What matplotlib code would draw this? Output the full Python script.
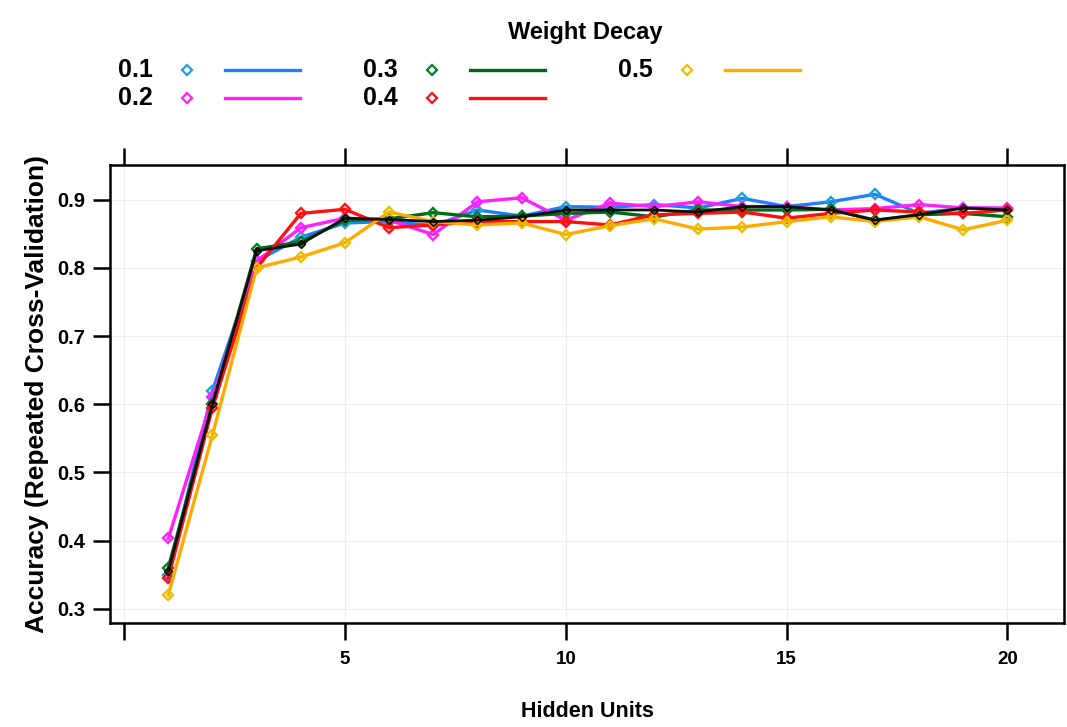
import numpy as np
import matplotlib
matplotlib.use('Agg')
import matplotlib.pyplot as plt
from matplotlib.lines import Line2D

plt.rcParams['font.family'] = ['Liberation Sans', 'DejaVu Sans']

hidden = np.arange(1, 21)

decay_labels = ['0.1', '0.2', '0.3', '0.4', '0.5']
decay_colors = ['#1f7fff', '#ff20ff', '#006a1a', '#ff1010', '#ffaa00']
marker_colors = ['#1f9fe0', '#ff20ff', '#008020', '#ff1010', '#e8c000']

acc_01 = [0.350, 0.620, 0.810, 0.845, 0.866, 0.868, 0.862, 0.885, 0.876, 0.890,
          0.889, 0.893, 0.888, 0.902, 0.890, 0.897, 0.908, 0.880, 0.888, 0.887]
acc_02 = [0.403, 0.610, 0.810, 0.859, 0.873, 0.870, 0.849, 0.897, 0.903, 0.870,
          0.895, 0.890, 0.897, 0.890, 0.890, 0.885, 0.887, 0.893, 0.888, 0.888]
acc_03 = [0.360, 0.600, 0.828, 0.838, 0.870, 0.872, 0.881, 0.875, 0.876, 0.880,
          0.882, 0.875, 0.885, 0.885, 0.885, 0.886, 0.870, 0.878, 0.880, 0.875]
acc_04 = [0.345, 0.595, 0.800, 0.880, 0.886, 0.859, 0.863, 0.868, 0.868, 0.868,
          0.863, 0.878, 0.880, 0.882, 0.873, 0.880, 0.885, 0.882, 0.880, 0.885]
acc_05 = [0.320, 0.555, 0.800, 0.816, 0.837, 0.882, 0.868, 0.863, 0.866, 0.849,
          0.862, 0.872, 0.857, 0.860, 0.868, 0.875, 0.868, 0.875, 0.856, 0.870]
acc_black = [0.355, 0.600, 0.825, 0.835, 0.873, 0.871, 0.868, 0.870, 0.875, 0.885,
             0.885, 0.885, 0.882, 0.890, 0.890, 0.885, 0.870, 0.878, 0.888, 0.885]

series = [acc_01, acc_02, acc_03, acc_04, acc_05]

fig = plt.figure(figsize=(10.67, 7.27), dpi=100)
ax = fig.add_axes([110/1067, 1-623/727, (1064-110)/1067, (623-165)/727])

# faint grid
for gx in [0, 5, 10, 15, 20]:
    ax.axvline(gx, color='#eeeeee', lw=0.8, zorder=0)
for gy in [0.3, 0.4, 0.5, 0.6, 0.7, 0.8, 0.9]:
    ax.axhline(gy, color='#eeeeee', lw=0.8, zorder=0)

for vals, lc, mc in zip(series, decay_colors, marker_colors):
    ax.plot(hidden, vals, color=lc, lw=2.4, marker='D', markersize=5.5,
            markerfacecolor='none', markeredgecolor=mc, markeredgewidth=1.7)
ax.plot(hidden, acc_black, color='#101010', lw=2.0, marker='D',
        markersize=4.5, markerfacecolor='none', markeredgecolor='black')

ax.set_xlim(-0.32, 21.28)
ax.set_ylim(0.279, 0.951)

ax.set_xticks([0, 5, 10, 15, 20])
ax.set_xticklabels(['', '5', '10', '15', '20'])
ax.set_yticks([0.3, 0.4, 0.5, 0.6, 0.7, 0.8, 0.9])
ax.set_yticklabels(['0.3', '0.4', '0.5', '0.6', '0.7', '0.8', '0.9'])
ax.tick_params(axis='x', top=True, bottom=True, direction='out', length=12,
               width=1.8, labelsize=13.5, pad=8)
ax.tick_params(axis='y', left=True, right=False, direction='out', length=12,
               width=1.8, labelsize=14.5, pad=6)
for lab in ax.get_xticklabels() + ax.get_yticklabels():
    lab.set_fontweight('bold')
for sp in ax.spines.values():
    sp.set_linewidth(1.8)

ax.set_xlabel('Hidden Units', fontsize=15.5, fontweight='bold', labelpad=24)
ax.set_ylabel('Accuracy (Repeated Cross-Validation)', fontsize=19, fontweight='bold', labelpad=6)

# legend on top
fig.text(585/1067, 1-33/727, 'Weight Decay', ha='center', va='center',
         fontsize=17, fontweight='bold')
cols_x = [118, 363, 618]
rows_y = [70, 98]
for i, (lab, lc, mc) in enumerate(zip(decay_labels, decay_colors, marker_colors)):
    cx = cols_x[i // 2]
    cy = rows_y[i % 2]
    fy = 1 - cy/727
    fig.text(cx/1067, fy, lab, ha='left', va='center', fontsize=18, fontweight='bold')
    fig.add_artist(Line2D([(cx+69)/1067], [fy], marker='D', markersize=5,
                          markerfacecolor='none', markeredgecolor=mc,
                          markeredgewidth=1.6, transform=fig.transFigure))
    fig.add_artist(Line2D([(cx+107)/1067, (cx+182)/1067], [fy, fy], color=lc,
                          lw=2.4, transform=fig.transFigure))

fig.savefig('out.png', dpi=100)
